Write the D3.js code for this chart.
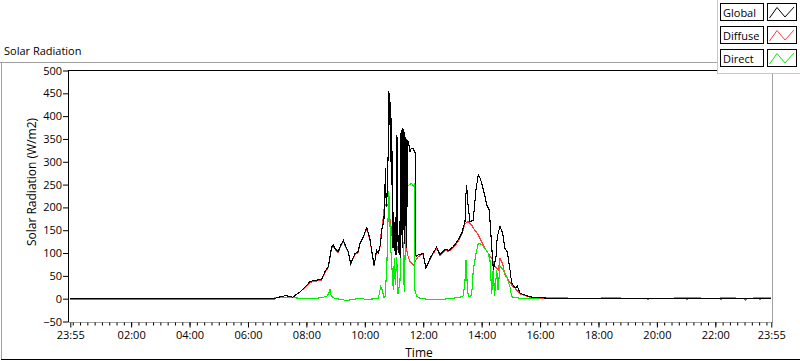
<!DOCTYPE html>
<html>
<head>
<meta charset="utf-8">
<script src="https://cdn.jsdelivr.net/npm/d3@7"></script>
<style>
  html, body { margin: 0; padding: 0; background: #fff; }
  svg { display: block; font-family: "Open Sans", "Noto Sans", sans-serif; }
</style>
</head>
<body>
<svg id="chart" width="800" height="361"></svg>
<script>
// ---------------- DATA (minutes from midnight; -5 = 23:55 previous day) ----------------
const seriesNames = ["Global", "Diffuse", "Direct"];
const seriesColors = ["#000000", "#ff3c3c", "#00ee00"];

const globalTimes = [-5, 414, 416, 426, 435, 440, 446, 452, 458, 467, 477, 487, 495, 503, 511, 518, 525, 529, 532, 535, 539, 545, 551, 556, 561, 566, 571, 576, 580, 586, 590, 597, 604, 607, 611, 614, 619, 622, 624, 628, 631, 633, 636, 639, 641, 642.5, 644, 646, 648, 649.5, 650.5, 651.5, 652.5, 653.5, 654.5, 655.5, 656.5, 658, 659.5, 661, 662.5, 664, 665.5, 667, 668, 669.5, 671, 672.5, 674, 675, 676, 677, 678, 679, 680, 681, 682, 683, 684, 685, 686, 687, 688, 690, 692.8, 695, 698.4, 701, 703.5, 704.5, 705, 707, 710, 713, 719.5, 725.6, 734, 740, 747.6, 754.4, 764.7, 772.9, 781.7, 792, 799, 805.8, 807.8, 809.3, 810.9, 812.5, 816, 822.8, 828.3, 833, 836.5, 840, 846.8, 850.4, 855.7, 860.7, 864, 869.5, 872.1, 877.7, 883.2, 887.9, 892.7, 898.2, 901.7, 908.5, 913.2, 918.8, 939.3, 959.9, 980, 1000, 1435];
const globalValues = [0, 0, 1, 4, 6, 6, 5, 3, 8, 15, 25, 37, 40, 41, 42, 59, 70, 95, 114, 118, 110, 103, 118, 128, 114, 103, 77, 90, 99, 103, 121, 136, 156, 145, 128, 106, 74, 90, 106, 100, 114, 130, 160, 165, 230, 286, 200, 230, 320, 455, 380, 450, 300, 430, 250, 380, 160, 110, 190, 105, 180, 95, 358, 350, 130, 100, 170, 90, 362, 140, 370, 110, 374, 150, 372, 120, 365, 160, 355, 110, 350, 200, 348, 340, 322, 328, 330, 325, 320, 297, 95, 93, 96, 96, 100, 67, 88, 100, 113, 96, 108, 106, 114, 129, 143, 169, 230, 249, 215, 202, 169, 172, 238, 271, 265, 253, 224, 205, 194, 114, 63, 92, 136, 158, 143, 110, 103, 63, 34, 23, 27, 12, 4, 2, 1, 0, 0];

const diffuseTimes = [-5, 414, 416, 426, 435, 440, 446, 452, 458, 467, 477, 487, 495, 503, 511, 518, 525, 529, 532, 535, 539, 545, 551, 556, 561, 566, 571, 576, 580, 586, 590, 597, 604, 607, 611, 614, 619, 622, 624, 628, 631, 634, 636, 639, 642, 645, 648, 651, 653, 657, 660, 664, 668, 672, 676, 679, 683, 686, 689, 693, 700, 703, 710, 719.5, 725.6, 734, 740, 747.6, 754.4, 764.7, 772.9, 781.7, 792, 799, 805.8, 812.5, 819.5, 826.2, 833, 840, 846.8, 853.6, 862.7, 867.5, 874.3, 877.7, 883.2, 887.9, 894.6, 901.7, 908.5, 918.8, 939.3, 959.9, 1000, 1180, 1182, 1184, 1260, 1262, 1264, 1330, 1332, 1334, 1380, 1382, 1384, 1410, 1412, 1414, 1435];
const diffuseValues = [-2, -2, 1, 4, 6, 6, 5, 3, 8, 15, 24, 35, 38, 39, 40, 57, 68, 93, 112, 115, 108, 101, 116, 126, 112, 101, 76, 88, 97, 101, 119, 134, 154, 143, 126, 104, 72, 88, 104, 100, 112, 150, 156, 194, 205, 209, 202, 180, 165, 128, 114, 99, 114, 136, 165, 172, 136, 106, 92, 81, 74, 81, 92, 99, 67, 86, 98, 110, 95, 105, 104, 112, 125, 140, 164, 169, 161, 150, 140, 125, 110, 99, 85, 70, 63, 88, 77, 52, 41, 30, 23, 10, 3, 1, 0, 0, -2, 0, 0, -2, 0, 0, -2, 0, 0, -3, 0, 0, -2, 0, 0];

const directTimes = [-5, 414, 416, 440, 467, 498, 508, 522, 526, 528.5, 530.5, 535, 543, 563, 580, 590, 600, 611, 623, 627.7, 632.6, 635.3, 639.4, 641.5, 645, 647, 649.1, 650.7, 652.8, 655.2, 657.3, 658.5, 660.6, 662.6, 665.5, 668.2, 672.3, 674.3, 677, 679.1, 681.1, 683.2, 686, 689.3, 692.8, 696.3, 699.6, 702, 703, 706.6, 713.3, 734, 754.4, 781.1, 795.4, 802.2, 805.8, 807.8, 809.9, 812.5, 816, 819.5, 822.8, 828.3, 833, 840, 846.8, 853.6, 857.1, 860.7, 864, 866.4, 871, 873.6, 877.7, 884.5, 891.5, 898.2, 901.7, 918.8, 958, 960, 1015, 1019, 1083, 1087, 1124, 1128, 1233, 1237, 1288, 1292, 1329, 1333, 1360, 1364, 1395, 1399, 1435];
const directValues = [0, 0, 3, 3, 1, 0, 2, 5, 12, 20, 8, 2, 0, -4, -1, 1, -1, -1, 0, 0, 26, 20, 2, 5, 63, 143, 235, 200, 120, 76, 40, 18, 90, 30, 92, 10, 40, 158, 202, 80, 15, 123, 253, 248, 250, 253, 246, 250, 18, 5, 1, -2, -2, 1, 3, 6, 40, 85, 40, 4, 4, 8, 63, 99, 121, 119, 110, 99, 85, 10, 70, 5, 63, 20, 70, 63, 48, 26, 4, 1, 0, 3, 3, 0, 0, 3, 3, 0, 0, 3, 3, 0, 0, 3, 3, 0, 0, 3, 3, 0];

const yTickValues = [-50, 0, 50, 100, 150, 200, 250, 300, 350, 400, 450, 500];
const xTickValues = [-5, 120, 240, 360, 480, 600, 720, 840, 960, 1080, 1200, 1320, 1435];
const xTickLabels = ["23:55", "02:00", "04:00", "06:00", "08:00", "10:00", "12:00", "14:00", "16:00", "18:00", "20:00", "22:00", "23:55"];

const chartTitle = "Solar Radiation";
const yAxisTitle = "Solar Radiation (W/m2)";
const xAxisTitle = "Time";

// ---------------- DRAWING ----------------
const svg = d3.select("#chart");

const plot = { left: 68, top: 70.5, right: 772, bottom: 322.5 };
const x = d3.scaleLinear().domain([-5, 1435]).range([70.3, 771.3]);
const y = d3.scaleLinear().domain([-50, 500]).range([321.5, 70.5]);

// outer panel frame
svg.append("line").attr("x1", 0).attr("x2", 800).attr("y1", 62.5).attr("y2", 62.5).attr("stroke", "#a0a0a0");
svg.append("line").attr("x1", 1.5).attr("x2", 1.5).attr("y1", 62.5).attr("y2", 359.5).attr("stroke", "#a0a0a0");
svg.append("line").attr("x1", 1).attr("x2", 800).attr("y1", 359.5).attr("y2", 359.5).attr("stroke", "#000");

// title
svg.append("text").attr("x", 4).attr("y", 55).attr("font-size", 11).attr("fill", "#000").text(chartTitle);

// clip
svg.append("clipPath").attr("id", "clip").append("rect")
  .attr("x", plot.left).attr("y", plot.top).attr("width", plot.right - plot.left).attr("height", plot.bottom - plot.top);

// series
const lineGen = d3.line().x(d => x(d[0])).y(d => y(d[1]));
const zip = (t, v) => t.map((tt, i) => [tt, v[i]]);
const series = [
  { name: "Diffuse", data: zip(diffuseTimes, diffuseValues), color: seriesColors[1] },
  { name: "Direct", data: zip(directTimes, directValues), color: seriesColors[2] },
  { name: "Global", data: zip(globalTimes, globalValues), color: seriesColors[0] }
];
const gLines = svg.append("g").attr("clip-path", "url(#clip)");
gLines.selectAll("path").data(series).join("path")
  .attr("d", d => lineGen(d.data))
  .attr("fill", "none")
  .attr("stroke", d => d.color)
  .attr("stroke-width", 1.1)
  .attr("stroke-linejoin", "miter")
  .attr("shape-rendering", "crispEdges");

// plot frame (sunken: top/left black, right/bottom grey)
svg.append("line").attr("x1", plot.left).attr("x2", plot.right).attr("y1", plot.top).attr("y2", plot.top).attr("stroke", "#000");
svg.append("line").attr("x1", plot.left + 0.5).attr("x2", plot.left + 0.5).attr("y1", plot.top).attr("y2", plot.bottom).attr("stroke", "#000");
svg.append("line").attr("x1", plot.right + 0.5).attr("x2", plot.right + 0.5).attr("y1", plot.top).attr("y2", plot.bottom).attr("stroke", "#a0a0a0");
svg.append("line").attr("x1", plot.left).attr("x2", plot.right + 1).attr("y1", plot.bottom).attr("y2", plot.bottom).attr("stroke", "#a0a0a0");

// y axis
const yAxis = svg.append("g").attr("transform", `translate(${plot.left},0)`)
  .call(d3.axisLeft(y).tickValues(yTickValues).tickSize(5).tickPadding(1).tickFormat(d3.format("d")));
yAxis.select(".domain").remove();
yAxis.selectAll("line").attr("stroke", "#000");
yAxis.selectAll("text").attr("font-size", 11).attr("font-family", "Open Sans").attr("fill", "#000");

// x axis minor ticks
const minorTicks = d3.range(0, 1436, 15).filter(v => v <= 1425);
const xMinor = svg.append("g").attr("transform", `translate(0,${plot.bottom})`)
  .call(d3.axisBottom(x).tickValues(minorTicks).tickSize(3).tickFormat(""));
xMinor.select(".domain").remove();
xMinor.selectAll("line").attr("stroke", "#000");

// x axis major ticks
const xAxis = svg.append("g").attr("transform", `translate(0,${plot.bottom})`)
  .call(d3.axisBottom(x).tickValues(xTickValues).tickSize(5).tickPadding(4).tickFormat((d, i) => xTickLabels[i]));
xAxis.select(".domain").remove();
xAxis.selectAll("line").attr("stroke", "#000");
xAxis.selectAll("text").attr("font-size", 11).attr("font-family", "Open Sans").attr("fill", "#000");

// axis titles
svg.append("text").attr("transform", "translate(36,182) rotate(-90)").attr("text-anchor", "middle")
  .attr("font-size", 12).attr("fill", "#000").text(yAxisTitle);
svg.append("text").attr("x", 419).attr("y", 357).attr("text-anchor", "middle")
  .attr("font-size", 12).attr("fill", "#000").text(xAxisTitle);

// legend panel
const lg = svg.append("g");
lg.append("rect").attr("x", 717.5).attr("y", -1).attr("width", 84).attr("height", 74.5).attr("fill", "#fff").attr("stroke", "#c8c8c8");
const legendOrder = [
  { name: seriesNames[0], color: seriesColors[0] },
  { name: seriesNames[1], color: seriesColors[1] },
  { name: seriesNames[2], color: seriesColors[2] }
];
legendOrder.forEach((s, i) => {
  const y0 = 3.5 + i * 23;
  lg.append("rect").attr("x", 720.5).attr("y", y0).attr("width", 43).attr("height", 17)
    .attr("fill", "#fff").attr("stroke", "#000");
  lg.append("text").attr("x", 723).attr("y", y0 + 13).attr("font-size", 11).attr("fill", "#000").text(s.name);
  lg.append("rect").attr("x", 767.5).attr("y", y0).attr("width", 29).attr("height", 17)
    .attr("fill", "#fff").attr("stroke", "#000");
  const zz = [[2, 14.5], [9.5, 4], [17.5, 13.5], [26.5, 3.5]].map(p => [767.5 + p[0], y0 + p[1]]);
  lg.append("path").attr("d", d3.line()(zz)).attr("fill", "none").attr("stroke", s.color).attr("stroke-width", 1);
});
</script>
</body>
</html>
